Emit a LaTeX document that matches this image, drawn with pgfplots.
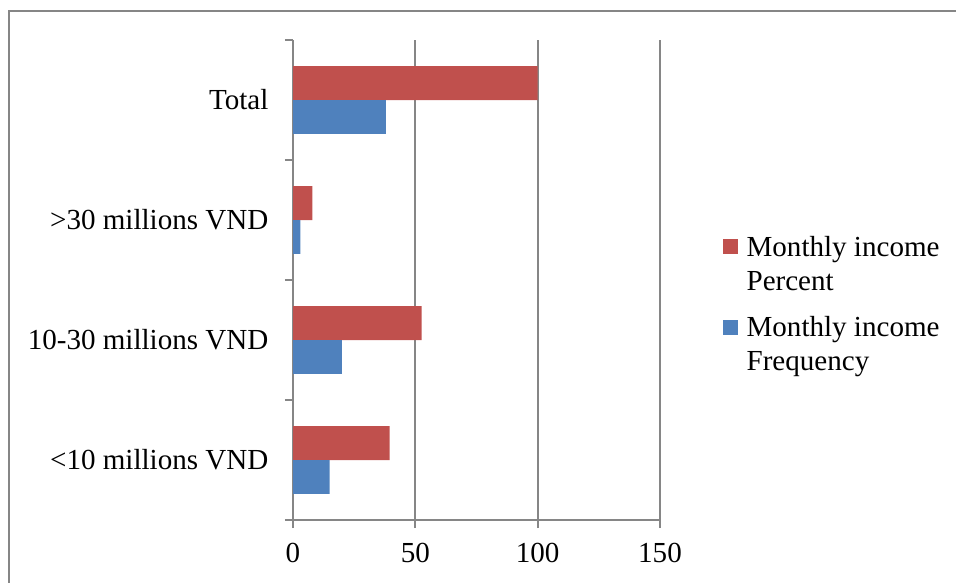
\documentclass[border=0pt]{standalone}
\usepackage{fontspec}
\setmainfont{Liberation Serif}
\usepackage{pgfplots}
\pgfplotsset{compat=1.18}
\definecolor{cred}{HTML}{C0504D}
\definecolor{cblue}{HTML}{4F81BD}
\definecolor{cgrid}{HTML}{868686}
\begin{document}
\fontsize{21.8}{25.5}\selectfont
\begin{tikzpicture}
\useasboundingbox (0,0) rectangle (717pt,-436.5pt);
\draw[cgrid, line width=1.5pt] (6.75pt,-440pt) -- (6.75pt,-8.6pt) -- (720pt,-8.6pt);
\begin{axis}[
  at={(219.75pt,-390pt)}, anchor=south west,
  width=275.25pt, height=360pt, scale only axis,
  xbar, xmin=0, xmax=150, ymin=-0.5, ymax=3.5,
  axis x line*=bottom, axis y line*=left,
  axis line style={cgrid, line width=1.3pt},
  xtick={0,50,100,150},
  xmajorgrids, grid style={cgrid, line width=1.3pt},
  tick align=outside, major tick length=6pt, minor tick length=6pt,
  x tick style={cgrid, line width=1.3pt},
  ytick={0,1,2,3},
  yticklabels={{<10 millions VND},{10-30 millions VND},{>30 millions VND},{Total}},
  minor ytick={-0.5,0.5,1.5,2.5,3.5},
  major y tick style={draw=none},
  minor y tick style={cgrid, line width=1.3pt},
  tick label style={font=\fontsize{21.8}{25.5}\selectfont},
  yticklabel style={xshift=-5pt},
  xticklabel style={yshift=-4pt},
  /pgf/number format/assume math mode=true,
  bar width=0.283,
  legend cell align=left,
  legend style={at={(axis description cs:1.16,0.61)}, anchor=north west, draw=none, fill=none,
    font=\fontsize{21.8}{25.5}\selectfont, row sep=35pt},
  legend image code/.code={\fill[#1,draw=none] (0pt,-5.6pt) rectangle (11.2pt,5.6pt);},
]
\addplot[fill=cred, draw=none, bar shift=0.1415] coordinates {(39.5,0) (52.6,1) (7.9,2) (100,3)};
\addlegendentry{\begin{tabular}[t]{@{\hspace{4.5pt}}l@{}}Monthly income\\Percent\end{tabular}}
\addplot[fill=cblue, draw=none, bar shift=-0.1415] coordinates {(15,0) (20,1) (3,2) (38,3)};
\addlegendentry{\begin{tabular}[t]{@{\hspace{4.5pt}}l@{}}Monthly income\\Frequency\end{tabular}}
\end{axis}
\end{tikzpicture}
\end{document}
